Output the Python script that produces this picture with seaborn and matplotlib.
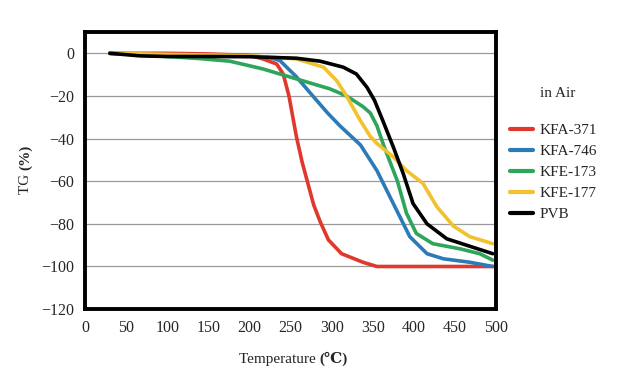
import matplotlib
matplotlib.use("Agg")
import matplotlib.pyplot as plt
import seaborn as sns
import pandas as pd

# --- TG curves (temperature in °C, TG in %)
kfa371_t = [30, 100, 150, 200, 216, 233, 241, 248, 257, 264, 271, 278, 286, 296, 312, 338, 355, 400, 450, 500]
kfa371_tg = [0, 0, -0.3, -1, -2.6, -5, -9.7, -20, -39, -51, -61, -71, -79, -87.5, -94, -98, -100, -100, -100, -100]

kfa746_t = [30, 100, 150, 200, 225, 237, 257, 277, 295, 310, 335, 355, 375, 395, 416, 436, 468, 496]
kfa746_tg = [0, -1, -1, -1.2, -2, -3.4, -11, -20, -28, -34, -43, -55, -70.5, -86, -94, -96.4, -98, -100]

kfe173_t = [30, 70, 100, 140, 176, 216, 257, 298, 318, 338, 347, 355, 364, 372, 380, 391, 403, 423, 456, 480, 496]
kfe173_tg = [0, -0.8, -1.5, -2.5, -3.7, -7.3, -12, -16.7, -20, -25, -28, -34, -44, -52, -60, -75, -84.5, -89.3, -91.7, -94, -97]

kfe177_t = [30, 100, 150, 200, 257, 290, 306, 318, 334, 347, 355, 375, 391, 411, 428, 448, 468, 496]
kfe177_tg = [0, -0.5, -0.8, -1.2, -2.6, -6.5, -12.8, -20, -31, -39, -42.3, -48.6, -55, -61, -72, -81, -86, -89.3]

pvb_t = [30, 67, 100, 150, 200, 257, 286, 314, 330, 343, 352, 362, 375, 387, 399, 416, 440, 464, 496]
pvb_tg = [0, -1.2, -1.5, -1.5, -1.6, -2.3, -3.7, -6.5, -9.7, -16, -22, -31.4, -44, -56.4, -70.5, -80, -87, -90, -94]

series = ["KFA-371", "KFA-746", "KFE-173", "KFE-177", "PVB"]
colors = ["#e0382c", "#2c7bb6", "#2ea55a", "#f2c12e", "#000000"]

frames = []
for name, t, tg in zip(series,
                       [kfa371_t, kfa746_t, kfe173_t, kfe177_t, pvb_t],
                       [kfa371_tg, kfa746_tg, kfe173_tg, kfe177_tg, pvb_tg]):
    frames.append(pd.DataFrame({"Temperature": t, "TG": tg, "sample": name}))
df = pd.concat(frames, ignore_index=True)

sns.set_style("white")
plt.rcParams["font.family"] = ["Liberation Serif", "DejaVu Serif"]

fig = plt.figure(figsize=(6.17, 3.72), dpi=100)
ax = fig.add_axes([0.138, 0.169, 0.666, 0.745])

sns.lineplot(data=df, x="Temperature", y="TG", hue="sample", hue_order=series,
             palette=colors, linewidth=2.6, estimator=None, sort=False, ax=ax)

ax.set_xlim(0, 500)
ax.set_ylim(-120, 10)
ax.set_xticks(range(0, 501, 50))
ax.set_yticks(range(-120, 1, 20))
ax.set_yticklabels(["\u2212120", "\u2212100", "\u221280", "\u221260", "\u221240", "\u221220", "0"])
ax.tick_params(length=0, labelsize=11.5, pad=8)
for y in range(-100, 1, 20):
    ax.axhline(y, color="#999999", linewidth=0.9, zorder=0)
for s in ax.spines.values():
    s.set_linewidth(2.8)
    s.set_color("black")

ax.set_xlabel("")
ax.set_ylabel("")
fig.text(0.518, 0.024, "Temperature ", ha="right", va="baseline", fontsize=11)
fig.text(0.518, 0.024, "(℃)", ha="left", va="baseline", fontsize=11, fontweight="bold")
fig.text(0.042, 0.543, "TG ", ha="center", va="top", fontsize=11, rotation=90)
fig.text(0.042, 0.543, "(%)", ha="center", va="bottom", fontsize=11, rotation=90, fontweight="bold")

fig.text(540 / 617, 0.748, "in Air", ha="left", va="center", fontsize=11)
leg = ax.legend(loc="upper left", bbox_to_anchor=(0.8266, 0.668), bbox_transform=fig.transFigure,
                frameon=False, fontsize=11, handlelength=1.5, handletextpad=0.46,
                labelspacing=0.48, borderpad=0, borderaxespad=0)
for line in leg.get_lines():
    line.set_linewidth(3)

fig.savefig("out.png", dpi=100)
